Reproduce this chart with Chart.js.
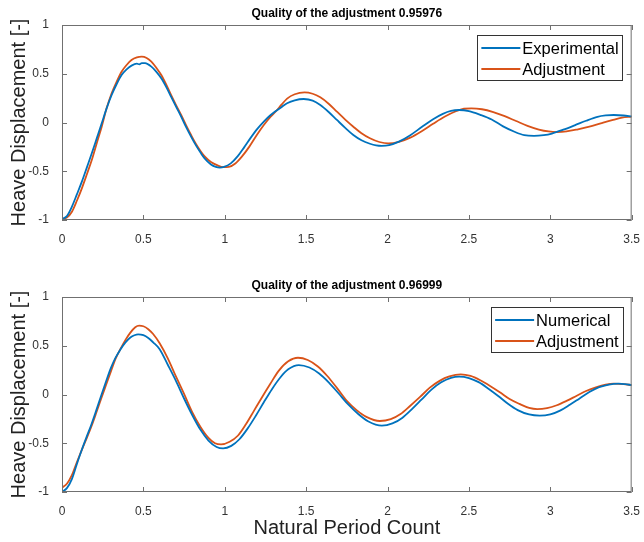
<!DOCTYPE html>
<html>
<head>
<meta charset="utf-8">
<script src="https://cdn.jsdelivr.net/npm/chart.js@4"></script>
<style>
html, body { margin: 0; padding: 0; background: #fff; }
#wrap { position: relative; width: 644px; height: 542px; }
canvas { position: absolute; left: 0; }
#topChart { top: 0; }
#bottomChart { top: 272px; }
</style>
</head>
<body>
<div id="wrap">
<canvas id="topChart" width="644" height="250"></canvas>
<canvas id="bottomChart" width="644" height="270"></canvas>
</div>
<script>
// top panel: experimental vs adjustment
const topExpT = [0, 0.03, 0.061, 0.092, 0.122, 0.153, 0.183, 0.214, 0.244, 0.274, 0.305, 0.336, 0.366, 0.397, 0.427, 0.46, 0.475, 0.49, 0.51, 0.549, 0.58, 0.61, 0.64, 0.67, 0.70, 0.732, 0.762, 0.793, 0.823, 0.854, 0.875, 0.915, 0.945, 0.97, 0.995, 1.037, 1.08, 1.119, 1.16, 1.2, 1.24, 1.282, 1.312, 1.35, 1.383, 1.43, 1.485, 1.54, 1.587, 1.64, 1.689, 1.74, 1.79, 1.84, 1.892, 1.93, 1.965, 2.01, 2.07, 2.14, 2.21, 2.28, 2.34, 2.39, 2.44, 2.50, 2.57, 2.64, 2.71, 2.78, 2.84, 2.90, 2.96, 3.01, 3.08, 3.15, 3.22, 3.29, 3.34, 3.39, 3.45, 3.5];
const topExp  = [-0.99, -0.96, -0.863, -0.735, -0.607, -0.46, -0.316, -0.16, -0.009, 0.145, 0.282, 0.395, 0.487, 0.545, 0.583, 0.603, 0.597, 0.609, 0.608, 0.573, 0.52, 0.453, 0.365, 0.265, 0.165, 0.06, -0.045, -0.145, -0.235, -0.316, -0.365, -0.43, -0.456, -0.463, -0.456, -0.419, -0.345, -0.255, -0.155, -0.065, 0.01, 0.077, 0.115, 0.16, 0.197, 0.228, 0.241, 0.225, 0.179, 0.105, 0.026, -0.055, -0.128, -0.182, -0.218, -0.235, -0.24, -0.232, -0.196, -0.13, -0.047, 0.034, 0.089, 0.119, 0.128, 0.117, 0.079, 0.031, -0.04, -0.095, -0.13, -0.138, -0.13, -0.113, -0.074, -0.029, 0.018, 0.058, 0.072, 0.077, 0.072, 0.062];
const topAdjT = [0, 0.03, 0.061, 0.092, 0.122, 0.153, 0.183, 0.214, 0.244, 0.274, 0.305, 0.336, 0.366, 0.397, 0.427, 0.46, 0.49, 0.52, 0.549, 0.58, 0.61, 0.64, 0.67, 0.70, 0.732, 0.762, 0.793, 0.823, 0.854, 0.875, 0.915, 0.956, 0.99, 1.025, 1.065, 1.105, 1.15, 1.2, 1.24, 1.282, 1.312, 1.35, 1.383, 1.43, 1.49, 1.54, 1.587, 1.64, 1.689, 1.74, 1.79, 1.84, 1.892, 1.95, 2.005, 2.07, 2.14, 2.21, 2.28, 2.35, 2.42, 2.47, 2.515, 2.58, 2.65, 2.72, 2.79, 2.86, 2.93, 2.99, 3.04, 3.10, 3.17, 3.24, 3.31, 3.38, 3.44, 3.5];
const topAdj  = [-0.99, -0.975, -0.915, -0.80, -0.675, -0.53, -0.385, -0.21, -0.043, 0.145, 0.30, 0.42, 0.521, 0.59, 0.641, 0.668, 0.675, 0.662, 0.624, 0.56, 0.487, 0.39, 0.282, 0.18, 0.077, -0.027, -0.128, -0.22, -0.30, -0.345, -0.405, -0.44, -0.458, -0.455, -0.42, -0.35, -0.25, -0.12, -0.025, 0.06, 0.111, 0.185, 0.245, 0.29, 0.309, 0.295, 0.258, 0.19, 0.111, 0.03, -0.043, -0.11, -0.162, -0.2, -0.214, -0.198, -0.155, -0.089, -0.013, 0.059, 0.115, 0.141, 0.145, 0.136, 0.107, 0.065, 0.015, -0.034, -0.072, -0.092, -0.098, -0.092, -0.07, -0.043, -0.009, 0.024, 0.049, 0.06];

// bottom panel: numerical vs adjustment
const botNumT = [0, 0.03, 0.06, 0.09, 0.12, 0.15, 0.18, 0.21, 0.24, 0.27, 0.30, 0.33, 0.36, 0.39, 0.42, 0.445, 0.468, 0.50, 0.53, 0.56, 0.60, 0.65, 0.70, 0.75, 0.80, 0.85, 0.90, 0.95, 0.99, 1.04, 1.09, 1.14, 1.19, 1.24, 1.29, 1.34, 1.39, 1.455, 1.52, 1.58, 1.64, 1.70, 1.76, 1.82, 1.88, 1.965, 2.03, 2.09, 2.15, 2.21, 2.27, 2.33, 2.39, 2.44, 2.50, 2.56, 2.62, 2.68, 2.74, 2.80, 2.87, 2.935, 3.00, 3.06, 3.12, 3.18, 3.24, 3.30, 3.36, 3.42, 3.46, 3.5];
const botNum  = [-1.0, -0.96, -0.87, -0.72, -0.575, -0.44, -0.31, -0.165, -0.015, 0.13, 0.27, 0.38, 0.465, 0.535, 0.585, 0.608, 0.617, 0.608, 0.58, 0.535, 0.465, 0.305, 0.14, -0.041, -0.21, -0.36, -0.472, -0.538, -0.553, -0.527, -0.459, -0.35, -0.22, -0.08, 0.055, 0.172, 0.258, 0.302, 0.277, 0.215, 0.122, 0.01, -0.105, -0.2, -0.274, -0.32, -0.297, -0.24, -0.15, -0.05, 0.05, 0.125, 0.17, 0.183, 0.169, 0.127, 0.06, -0.015, -0.095, -0.16, -0.205, -0.217, -0.204, -0.165, -0.105, -0.04, 0.025, 0.075, 0.102, 0.111, 0.106, 0.097];
const botAdjT = [0, 0.03, 0.06, 0.09, 0.12, 0.15, 0.18, 0.21, 0.24, 0.27, 0.30, 0.33, 0.36, 0.39, 0.42, 0.45, 0.474, 0.50, 0.53, 0.56, 0.60, 0.65, 0.70, 0.75, 0.80, 0.85, 0.90, 0.94, 0.977, 1.03, 1.08, 1.13, 1.18, 1.23, 1.28, 1.33, 1.39, 1.45, 1.51, 1.57, 1.63, 1.69, 1.75, 1.81, 1.87, 1.953, 2.02, 2.08, 2.14, 2.20, 2.26, 2.32, 2.38, 2.45, 2.51, 2.57, 2.63, 2.69, 2.75, 2.81, 2.87, 2.92, 2.98, 3.04, 3.10, 3.16, 3.22, 3.28, 3.34, 3.39, 3.45, 3.5];
const botAdj  = [-0.956, -0.915, -0.83, -0.70, -0.575, -0.455, -0.33, -0.19, -0.045, 0.095, 0.234, 0.37, 0.47, 0.56, 0.635, 0.69, 0.706, 0.70, 0.67, 0.62, 0.525, 0.37, 0.185, 0.006, -0.18, -0.33, -0.445, -0.5, -0.512, -0.485, -0.423, -0.305, -0.165, -0.025, 0.11, 0.24, 0.34, 0.377, 0.354, 0.29, 0.19, 0.065, -0.065, -0.16, -0.23, -0.272, -0.253, -0.2, -0.115, -0.025, 0.07, 0.14, 0.185, 0.206, 0.19, 0.146, 0.088, 0.023, -0.046, -0.096, -0.137, -0.149, -0.139, -0.11, -0.066, -0.015, 0.036, 0.072, 0.1, 0.111, 0.106, 0.097];

const xTicks = [0, 0.5, 1, 1.5, 2, 2.5, 3, 3.5];
const yTicks = [-1, -0.5, 0, 0.5, 1];

const BLUE = '#0072BD';
const ORANGE = '#D95319';
const FONT = '"Liberation Sans", Arial, Helvetica, sans-serif';

const toPts = (xs, ys) => xs.map((x, i) => ({ x: x, y: ys[i] }));
const fmt = v => String(Math.round(v * 10) / 10);

// matlab style box with inward ticks on all four sides
const boxAxes = {
    id: 'boxAxes',
    afterDraw(chart) {
        const { ctx, chartArea: a, scales } = chart;
        ctx.save();
        ctx.strokeStyle = '#707070';
        ctx.lineWidth = 1;
        ctx.strokeRect(a.left + 0.5, a.top + 0.5, a.right - a.left - 1, a.bottom - a.top - 1);
        ctx.beginPath();
        xTicks.forEach(v => {
            const px = Math.round(scales.x.getPixelForValue(v)) + 0.5;
            ctx.moveTo(px, a.bottom); ctx.lineTo(px, a.bottom - 5);
            ctx.moveTo(px, a.top); ctx.lineTo(px, a.top + 5);
        });
        yTicks.forEach(v => {
            const py = Math.round(scales.y.getPixelForValue(v)) + 0.5;
            ctx.moveTo(a.left, py); ctx.lineTo(a.left + 5, py);
            ctx.moveTo(a.right, py); ctx.lineTo(a.right - 5, py);
        });
        ctx.stroke();
        ctx.restore();
    }
};

// boxed legend in the upper right corner
const boxLegend = {
    id: 'boxLegend',
    afterDraw(chart) {
        const { ctx, chartArea: a } = chart;
        const sets = chart.data.datasets;
        ctx.save();
        ctx.font = '16.5px ' + FONT;
        let tw = 0;
        sets.forEach(d => { tw = Math.max(tw, ctx.measureText(d.label).width); });
        const w = 4 + 39 + 2 + tw + 4;
        const h = 45;
        const x0 = a.right - 9 - w;
        const y0 = a.top + 10;
        ctx.fillStyle = '#fff';
        ctx.fillRect(x0, y0, w, h);
        ctx.strokeStyle = '#333';
        ctx.lineWidth = 1;
        ctx.strokeRect(Math.round(x0) + 0.5, y0 + 0.5, Math.round(w), h);
        sets.forEach((d, i) => {
            const cy = y0 + 13 + i * 21;
            ctx.strokeStyle = d.borderColor;
            ctx.lineWidth = 2;
            ctx.beginPath();
            ctx.moveTo(x0 + 4, cy); ctx.lineTo(x0 + 43, cy);
            ctx.stroke();
            ctx.fillStyle = '#000';
            ctx.textBaseline = 'middle';
            ctx.textAlign = 'left';
            ctx.fillText(d.label, x0 + 45, cy + 1);
        });
        ctx.restore();
    }
};

function makeChart(id, title, sets, xTitle, xHeight) {
    return new Chart(document.getElementById(id), {
        type: 'line',
        data: {
            datasets: sets.map(s => ({
                label: s.label,
                data: s.data,
                borderColor: s.color,
                backgroundColor: s.color,
                borderWidth: 1.8,
                pointRadius: 0,
                cubicInterpolationMode: 'monotone',
                fill: false
            }))
        },
        options: {
            responsive: false,
            animation: false,
            layout: { padding: { left: 0, right: 11, top: 0, bottom: 0 } },
            plugins: {
                legend: { display: false },
                tooltip: { enabled: false },
                title: {
                    display: true,
                    text: title,
                    fullSize: false,
                    color: '#000',
                    font: { family: FONT, size: 12, weight: 'bold' },
                    padding: { top: 6, bottom: 4.6 }
                }
            },
            scales: {
                x: {
                    type: 'linear',
                    min: 0,
                    max: 3.5,
                    grid: { display: false },
                    border: { display: false },
                    ticks: {
                        stepSize: 0.5,
                        padding: 4,
                        maxRotation: 0,
                        autoSkip: false,
                        color: '#333',
                        font: { family: FONT, size: 12 },
                        callback: fmt
                    },
                    title: {
                        display: !!xTitle,
                        text: xTitle,
                        color: '#222',
                        font: { family: FONT, size: 20 },
                        padding: { top: 0, bottom: 2 }
                    },
                    afterFit: s => { s.height = xHeight; }
                },
                y: {
                    min: -1,
                    max: 1,
                    grid: { display: false },
                    border: { display: false },
                    ticks: {
                        stepSize: 0.5,
                        padding: 5,
                        color: '#333',
                        font: { family: FONT, size: 12 },
                        callback: fmt
                    },
                    title: {
                        display: true,
                        text: 'Heave Displacement [-]',
                        color: '#222',
                        font: { family: FONT, size: 20 },
                        padding: { top: 7, bottom: 0 }
                    },
                    afterFit: s => { s.width = 62; }
                }
            }
        },
        plugins: [boxAxes, boxLegend]
    });
}

makeChart('topChart', 'Quality of the adjustment 0.95976', [
    { label: 'Experimental', data: toPts(topExpT, topExp), color: BLUE },
    { label: 'Adjustment', data: toPts(topAdjT, topAdj), color: ORANGE }
], '', 30);

makeChart('bottomChart', 'Quality of the adjustment 0.96999', [
    { label: 'Numerical', data: toPts(botNumT, botNum), color: BLUE },
    { label: 'Adjustment', data: toPts(botAdjT, botAdj), color: ORANGE }
], 'Natural Period Count', 50);
</script>
</body>
</html>
